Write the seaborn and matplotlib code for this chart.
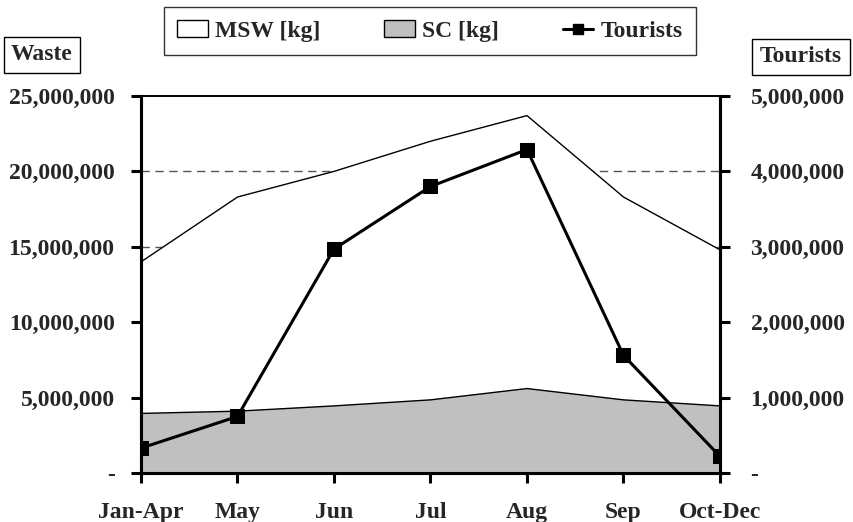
import matplotlib
matplotlib.use("Agg")
import matplotlib.pyplot as plt
from matplotlib.patches import Patch
from matplotlib.lines import Line2D
from matplotlib.ticker import FuncFormatter, MultipleLocator
import seaborn as sns
import pandas as pd

# Monthly waste and tourist figures
periods = ["Jan-Apr", "May", "Jun", "Jul", "Aug", "Sep", "Oct-Dec"]
msw_kg = [14.0e6, 18.3e6, 20.0e6, 22.0e6, 23.7e6, 18.3e6, 14.8e6]
sc_kg = [3.95e6, 4.1e6, 4.45e6, 4.85e6, 5.6e6, 4.85e6, 4.45e6]
tourists = [0.33e6, 0.75e6, 2.97e6, 3.80e6, 4.29e6, 1.56e6, 0.22e6]

sns.set_theme(style="white")
plt.rcParams["font.family"] = ["Liberation Serif", "DejaVu Serif"]
plt.rcParams["font.weight"] = "bold"

df = pd.DataFrame({"period": periods, "x": range(len(periods)),
                   "msw": msw_kg, "sc": sc_kg, "tourists": tourists})

fig = plt.figure(figsize=(8.54, 5.22), dpi=100)
ax = fig.add_axes([141 / 854, 1 - 473 / 522, (720 - 141) / 854, (473 - 96) / 522])

FS = 17

# dashed gridlines sit underneath the white MSW area
for yv in [5e6, 10e6, 15e6, 20e6]:
    ax.axhline(yv, color="#555555", lw=1.0, ls=(0, (6, 4)), zorder=0)

ax.fill_between(df["x"], 0, df["msw"], color="white", zorder=1)
sns.lineplot(data=df, x="x", y="msw", ax=ax, color="black", lw=1.0, zorder=2)
ax.fill_between(df["x"], 0, df["sc"], color="#c0c0c0", zorder=3)
sns.lineplot(data=df, x="x", y="sc", ax=ax, color="black", lw=1.0, zorder=4)

ax.set_xlim(0, len(periods) - 1)
ax.set_ylim(0, 25e6)
ax.yaxis.set_major_locator(MultipleLocator(5e6))

def fmt(v, _):
    return "-" if v == 0 else f"{v:,.0f}"

ax.yaxis.set_major_formatter(FuncFormatter(fmt))
ax.set_xticks(range(len(periods)))
ax.set_xticklabels(periods)
ax.set_xlabel("")
ax.set_ylabel("")

ax2 = ax.twinx()
sns.lineplot(data=df, x="x", y="tourists", ax=ax2, color="black", lw=2.2,
             marker="s", markersize=9.5, markeredgecolor="black", zorder=5)
ax2.set_ylim(0, 5e6)
ax2.yaxis.set_major_locator(MultipleLocator(1e6))
ax2.yaxis.set_major_formatter(FuncFormatter(fmt))
ax2.set_ylabel("")
ax2.set_xlim(0, len(periods) - 1)

for a in (ax, ax2):
    for s in a.spines.values():
        s.set_color("black")
        s.set_linewidth(2.2)
    a.spines["top"].set_linewidth(1.2)
    a.tick_params(axis="both", which="major", direction="out", length=7,
                  width=2.2, color="black", labelsize=FS, pad=10,
                  bottom=True, left=(a is ax), right=(a is ax2))
    for lab in a.get_xticklabels() + a.get_yticklabels():
        lab.set_fontweight("bold")
ax.tick_params(axis="x", pad=14)
ax.tick_params(axis="y", pad=12)
ax2.tick_params(axis="y", pad=15)

# boxed axis titles
box = dict(boxstyle="square,pad=0.32", fc="white", ec="black", lw=1.0)
fig.text(42 / 854, 1 - 55 / 522, "Waste", ha="center", va="center",
         fontsize=FS, fontweight="bold", bbox=box)
fig.text(801 / 854, 1 - 57 / 522, "Tourists", ha="center", va="center",
         fontsize=FS, fontweight="bold", bbox=box)

handles = [
    Patch(facecolor="white", edgecolor="black", lw=1.0, label="MSW [kg]"),
    Patch(facecolor="#c0c0c0", edgecolor="black", lw=1.0, label="SC [kg]"),
    Line2D([], [], color="black", lw=2.2, marker="s", markersize=7.5, label="Tourists"),
]
leg = fig.legend(handles=handles, loc="center", bbox_to_anchor=(430 / 854, 1 - 31 / 522),
                 ncol=3, frameon=True, fancybox=False, edgecolor="black",
                 prop={"size": FS, "weight": "bold"}, handlelength=1.3,
                 handleheight=0.7, handletextpad=0.3, columnspacing=2.7,
                 borderpad=0.55)
leg.get_frame().set_linewidth(1.0)

fig.savefig("out.png", dpi=100, facecolor="white")
